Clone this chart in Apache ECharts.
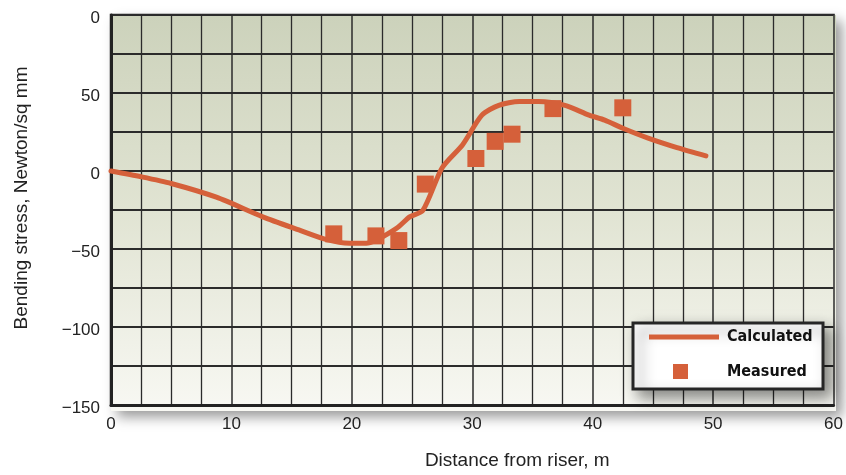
<!DOCTYPE html>
<html>
<head>
<meta charset="utf-8">
<script src="https://cdn.jsdelivr.net/npm/echarts@6/dist/echarts.min.js"></script>
<style>
html,body{margin:0;padding:0;background:#fff;}
#chart{width:846px;height:475px;}
</style>
</head>
<body>
<div id="chart"></div>
<script>
// ---- data ----
const calcX = [0, 2.5, 5, 8.75, 12.6, 15.6, 17.9, 19.8, 21.2, 23.7, 24.8, 25.9, 27.5, 29.2, 30.8, 32.2, 33.9, 35.5, 37.7, 39.7, 41, 42.5, 44.6, 47, 49.4];
const calcY = [0, -3.7, -8, -16.8, -29.4, -37.8, -44, -46.3, -46.3, -36.8, -29.4, -25.2, 2.1, 16.9, 35.8, 42.1, 44.6, 44.6, 42.1, 35.8, 32.6, 27.4, 21.1, 15, 9.7];
const measX = [18.5, 22, 23.9, 26.1, 30.3, 31.9, 33.3, 36.7, 42.5];
const measY = [-40.3, -41.6, -44.6, -8.4, 8, 19, 23.6, 40, 40.5];
const yTicks = [100, 50, 0, -50, -100, -150];
const yTickLabels = ['0', '50', '0', '\u221250', '\u2212100', '\u2212150'];
const xTickLabels = ['0', '10', '20', '30', '40', '50', '60'];
const seriesNames = ['Calculated', 'Measured'];
const axisNames = ['Distance from riser, m', 'Bending stress, Newton/sq mm'];

const ORANGE = '#d5603a';
const GRID = '#2b2b2b';
const FONT = '"Liberation Sans", Arial, sans-serif';
const NARROW = '"Liberation Sans Narrow", "DejaVu Sans Condensed", sans-serif';

const chart = echarts.init(document.getElementById('chart'), null, {renderer: 'canvas'});

const lineData = calcX.map((x, i) => [x, calcY[i]]);
const scatterData = measX.map((x, i) => [x, measY[i]]);

const G = {left: 111, right: 10, top: 15, bottom: 64};

chart.setOption({
  animation: false,
  grid: {
    left: G.left, right: G.right, top: G.top, bottom: G.bottom,
    show: true,
    backgroundColor: 'transparent',
    borderColor: '#262626',
    borderWidth: 2.5
  },
  xAxis: {
    type: 'value', min: 0, max: 60, interval: 10,
    name: axisNames[0], nameLocation: 'middle', nameGap: 46,
    nameTextStyle: {fontFamily: FONT, fontSize: 19, color: '#222', padding: [0, 0, 0, 90]},
    axisLine: {show: true, onZero: false, lineStyle: {color: '#222', width: 3}},
    axisTick: {show: false},
    axisLabel: {
      fontFamily: FONT, fontSize: 17, color: '#222', margin: 11,
      formatter: v => xTickLabels[Math.round(v / 10)] ?? ''
    },
    splitLine: {show: true, lineStyle: {color: GRID, width: 1.5}},
    minorTick: {show: false, splitNumber: 4},
    minorSplitLine: {show: true, lineStyle: {color: GRID, width: 1.3}}
  },
  yAxis: {
    type: 'value', min: -150, max: 100, interval: 50,
    name: axisNames[1], nameLocation: 'middle', nameGap: 80,
    nameTextStyle: {fontFamily: FONT, fontSize: 19, color: '#222', padding: [0, 0, 0, 24]},
    axisLine: {show: true, onZero: false, lineStyle: {color: '#222', width: 3}},
    axisTick: {show: false},
    axisLabel: {
      fontFamily: FONT, fontSize: 17, color: '#222', margin: 11,
      verticalAlign: 'top', lineHeight: 7,
      formatter: v => { const i = yTicks.indexOf(v); return i >= 0 ? yTickLabels[i] : ''; }
    },
    splitLine: {show: true, lineStyle: {color: GRID, width: 2}},
    minorTick: {show: false, splitNumber: 2},
    minorSplitLine: {show: true, lineStyle: {color: GRID, width: 2}}
  },
  graphic: [{
    type: 'rect', z: 0, zlevel: 0,
    shape: {x: G.left, y: G.top, width: 846 - G.left - G.right, height: 475 - G.top - G.bottom},
    style: {
      fill: new echarts.graphic.LinearGradient(0, 0, 0, 1, [
        {offset: 0, color: '#ccd2bb'},
        {offset: 0.5, color: '#e1e4d3'},
        {offset: 1, color: '#f8f8f3'}
      ]),
      shadowColor: 'rgba(0,0,0,0.4)', shadowBlur: 12, shadowOffsetX: 6, shadowOffsetY: 6
    }
  }, {
    type: 'rect', z: 50,
    shape: {x: 633, y: 323, width: 190, height: 66},
    style: {fill: '#fff', stroke: '#262626', lineWidth: 3,
      shadowColor: 'rgba(0,0,0,0.45)', shadowBlur: 14, shadowOffsetX: 7, shadowOffsetY: 7}
  }],
  legend: [{
    data: [seriesNames[0]], orient: 'vertical', left: 649, top: 327, padding: 0, z: 60,
    selectedMode: false, icon: 'rect', itemWidth: 70, itemHeight: 5,
    textStyle: {fontFamily: NARROW, fontWeight: 'bold', fontSize: 16, color: '#111', lineHeight: 20, padding: [0, 0, 0, 3]}
  }, {
    data: [seriesNames[1]], orient: 'vertical', left: 673, top: 359, padding: 0, z: 60,
    selectedMode: false, icon: 'rect', itemWidth: 15, itemHeight: 15,
    textStyle: {fontFamily: NARROW, fontWeight: 'bold', fontSize: 16, color: '#111', lineHeight: 20, padding: [0, 0, 5, 34]}
  }],
  series: [{
    name: seriesNames[0], type: 'line', data: lineData,
    showSymbol: false, smooth: 0.25, z: 5,
    lineStyle: {color: ORANGE, width: 5, join: 'round', cap: 'round'},
    itemStyle: {color: ORANGE}
  }, {
    name: seriesNames[1], type: 'scatter', data: scatterData,
    symbol: 'rect', symbolSize: 17, z: 6,
    itemStyle: {color: ORANGE, opacity: 1}
  }]
});
</script>
</body>
</html>
